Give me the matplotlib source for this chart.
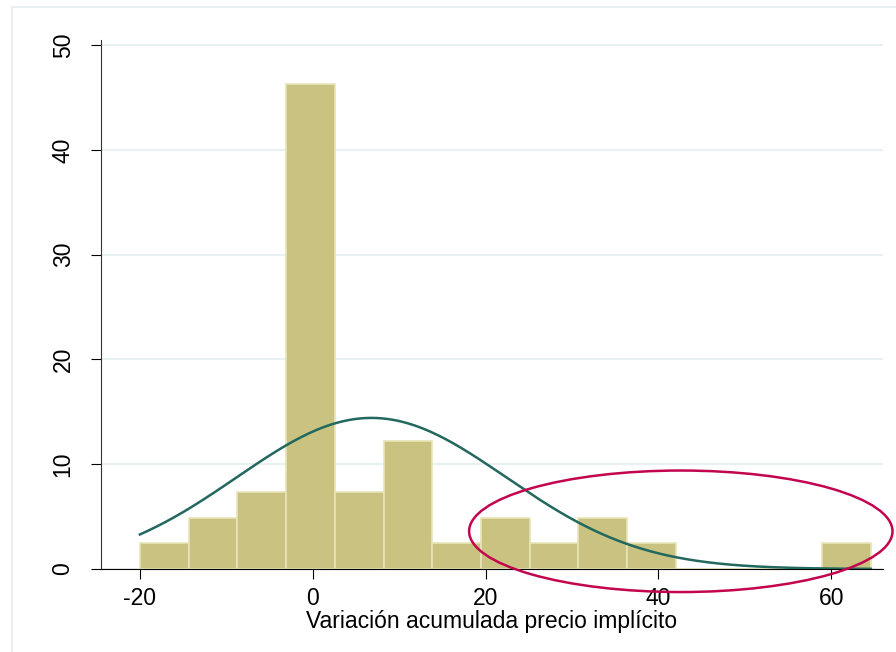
import numpy as np
import matplotlib.pyplot as plt
from matplotlib.patches import Ellipse, Rectangle

plt.rcParams['font.family'] = ['Liberation Sans', 'DejaVu Sans']
plt.rcParams['axes.unicode_minus'] = False

# histogram: 15 bins from -20 to 64.6, heights in percent
bin_start = -20.0
bin_end = 64.6
percents = [2.44, 4.88, 7.32, 46.34, 7.32, 12.20, 2.44, 4.88, 2.44, 4.88, 2.44, 0, 0, 0, 2.44]

# fitted normal curve parameters
curve_mean = 6.8
curve_sd = 15.6

x_ticks = [-20, 0, 20, 40, 60]
y_ticks = [0, 10, 20, 30, 40, 50]
xlabel = "Variación acumulada precio implícito"

bar_color = '#C9C280'
edge_color = '#E8E4B8'
curve_color = '#22685E'
ring_color = '#C2054E'
grid_color = '#E9F0F2'

fig = plt.figure(figsize=(8.96, 6.52), dpi=100)
fig.patch.set_facecolor('white')
# light outer frame like the graph region
fig.patches.append(Rectangle((12 / 896, -0.05), 1.0, (652 - 7) / 652 + 0.05,
                             transform=fig.transFigure, fill=False,
                             edgecolor='#E6EEF0', lw=1.2))

ax = fig.add_axes([101 / 896, (652 - 569) / 652, (883 - 101) / 896, (569 - 40) / 652])

n = len(percents)
width = (bin_end - bin_start) / n
edges = bin_start + width * np.arange(n)
ax.bar(edges, percents, width=width, align='edge', color=bar_color,
       edgecolor=edge_color, linewidth=1.2, zorder=2)

xs = np.linspace(bin_start, bin_end, 400)
dens = 100 * width * np.exp(-0.5 * ((xs - curve_mean) / curve_sd) ** 2) / (curve_sd * np.sqrt(2 * np.pi))
ax.plot(xs, dens, color=curve_color, lw=1.8, zorder=3)

ring = Ellipse((42.6, 3.6), 49.0, 11.6, fill=False, edgecolor=ring_color,
               lw=1.8, zorder=4, clip_on=False)
ax.add_patch(ring)

ax.set_xlim(-24.5, 66.0)
ax.set_ylim(0, 50.5)
ax.set_xticks(x_ticks)
ax.set_yticks(y_ticks)
ax.yaxis.grid(True, color=grid_color, lw=1.5, zorder=0)
ax.set_axisbelow(True)

for s in ['top', 'right']:
    ax.spines[s].set_visible(False)
ax.spines['left'].set_color('#333333')
ax.spines['bottom'].set_color('black')
ax.tick_params(axis='x', length=7, pad=6, labelsize=16.5)
ax.tick_params(axis='y', length=7, pad=12, labelsize=16.5, labelrotation=90)
for lab in ax.get_yticklabels():
    lab.set_va('center')

ax.set_xlabel(xlabel, fontsize=16.5, labelpad=0)

fig.savefig('out.png', dpi=100)
